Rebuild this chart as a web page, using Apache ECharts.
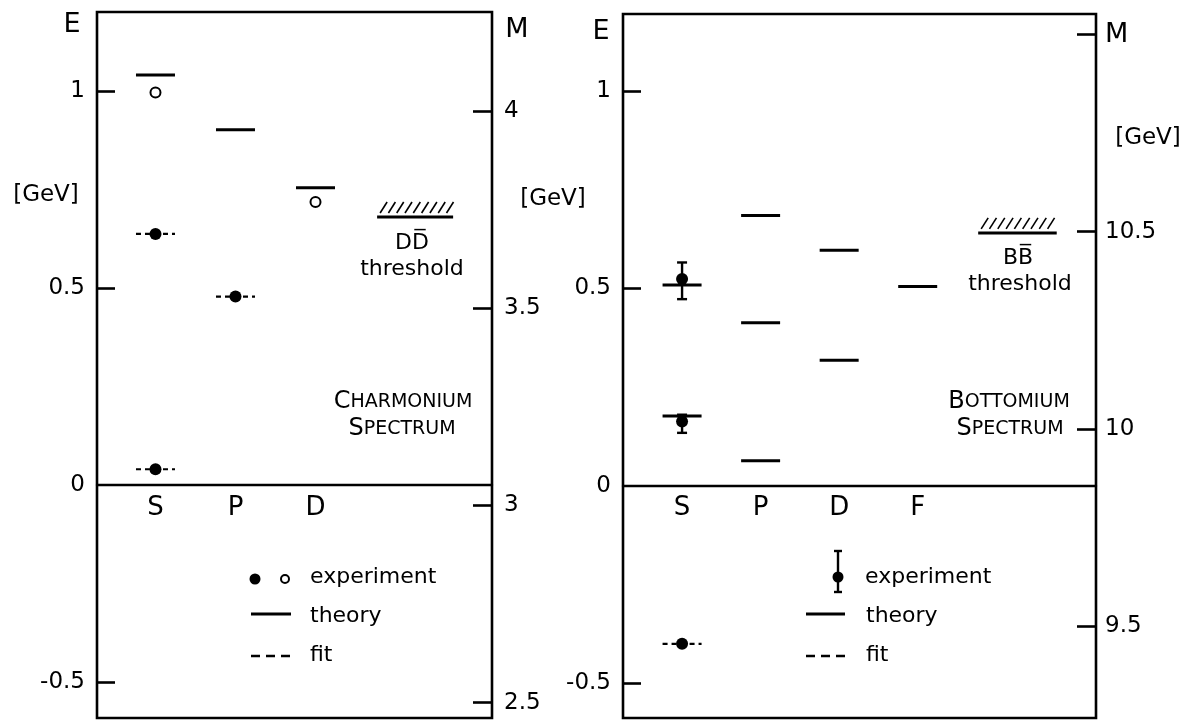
<!DOCTYPE html>
<html>
<head>
<meta charset="utf-8">
<title>Charmonium and Bottomium Spectra</title>
<script src="https://cdn.jsdelivr.net/npm/echarts@6/dist/echarts.min.js"></script>
<style>
    html, body { margin: 0; padding: 0; background: #fff; }
    #chart { width: 1189px; height: 722px; }
</style>
</head>
<body>
<div id="chart"></div>
<script>
// orbital labels on the E = 0 line
var wavesC = ['S', 'P', 'D'];
var wavesB = ['S', 'P', 'D', 'F'];

// charmonium, [wave, E in GeV]
var theoryC = [[1, 1.040], [2, 0.901], [3, 0.754]];
var fitC = [[1, 0.040], [1, 0.637], [2, 0.478]];
var expFilledC = [[1, 0.040], [1, 0.637], [2, 0.478]];
var expOpenC = [[1, 0.996], [3, 0.718]];
var thresholdC = [[3.77, 4.72, 0.680]];   // [from, to, E]
var massOffsetC = 3.052;                   // M = E + offset

// bottomium
var theoryB = [[1, 0.509], [1, 0.177], [2, 0.685], [2, 0.413], [2, 0.063],
               [3, 0.597], [3, 0.318], [4, 0.505]];
var fitB = [[1, -0.401]];
var expB = [[1, 0.524], [1, 0.163], [1, -0.401]];
var errB = [[1, 0.473, 0.566], [1, 0.134, 0.180]];   // [wave, low, high]
var thresholdB = [[4.77, 5.77, 0.641]];
var massOffsetB = 9.856;

// axis ticks
var eLabels = [-0.5, 0, 0.5, 1];
var eTicks = [-0.5, 0.5, 1];
var mTicksC = [2.5, 3, 3.5, 4];
var mTicksB = [9.5, 10, 10.5, 11];

var eRangeC = [-0.591, 1.2];
var eRangeB = [-0.589, 1.196];

var FONT = 'DejaVu Sans';
var BLACK = '#000';

var myChart = echarts.init(document.getElementById('chart'));

function levelSeries(data, idx, dashed) {
    return {
        type: 'custom',
        xAxisIndex: idx,
        yAxisIndex: idx * 2,
        data: data,
        z: 3,
        renderItem: function (params, api) {
            var p = api.coord([api.value(0), api.value(1)]);
            return {
                type: 'line',
                shape: { x1: p[0] - 19.5, y1: p[1], x2: p[0] + 19.5, y2: p[1] },
                style: { stroke: BLACK, lineWidth: dashed ? 2.2 : 3, lineDash: dashed ? [5, 4] : null }
            };
        }
    };
}

function thresholdSeries(data, idx) {
    return {
        type: 'custom',
        xAxisIndex: idx,
        yAxisIndex: idx * 2,
        data: data,
        encode: { x: [0, 1], y: 2 },
        renderItem: function (params, api) {
            var a = api.coord([api.value(0), api.value(2)]);
            var b = api.coord([api.value(1), api.value(2)]);
            var kids = [{
                type: 'line',
                shape: { x1: a[0], y1: a[1], x2: b[0], y2: b[1] },
                style: { stroke: BLACK, lineWidth: 3 }
            }];
            for (var x = a[0] + 3; x < b[0] - 6; x += 8.3) {
                kids.push({
                    type: 'line',
                    shape: { x1: x, y1: a[1] - 4, x2: x + 7, y2: a[1] - 15 },
                    style: { stroke: BLACK, lineWidth: 1.6 }
                });
            }
            return { type: 'group', children: kids };
        }
    };
}

function errorSeries(data, idx) {
    return {
        type: 'custom',
        xAxisIndex: idx,
        yAxisIndex: idx * 2,
        data: data,
        encode: { x: 0, y: [1, 2] },
        z: 4,
        renderItem: function (params, api) {
            var lo = api.coord([api.value(0), api.value(1)]);
            var hi = api.coord([api.value(0), api.value(2)]);
            var st = { stroke: BLACK, lineWidth: 2.4 };
            return {
                type: 'group',
                children: [
                    { type: 'line', shape: { x1: lo[0], y1: lo[1], x2: hi[0], y2: hi[1] }, style: st },
                    { type: 'line', shape: { x1: lo[0] - 5, y1: lo[1], x2: lo[0] + 5, y2: lo[1] }, style: st },
                    { type: 'line', shape: { x1: hi[0] - 5, y1: hi[1], x2: hi[0] + 5, y2: hi[1] }, style: st }
                ]
            };
        }
    };
}

// S, P, D, F letters sit just under the E = 0 line
function waveLabelSeries(names, idx) {
    return {
        type: 'scatter',
        xAxisIndex: idx,
        yAxisIndex: idx * 2,
        symbolSize: 0,
        silent: true,
        itemStyle: { opacity: 1, color: BLACK },
        data: names.map(function (n, i) { return [i + 1, 0]; }),
        label: {
            show: true,
            position: 'bottom',
            distance: 10,
            color: BLACK,
            opacity: 1,
            fontFamily: FONT,
            fontSize: 26,
            formatter: function (p) { return names[p.dataIndex]; }
        }
    };
}

function xAxisFor(idx, min, max) {
    return {
        gridIndex: idx,
        type: 'value',
        min: min,
        max: max,
        axisLine: { onZero: true, lineStyle: { color: BLACK, width: 2.4 } },
        axisTick: { show: false },
        splitLine: { show: false },
        axisLabel: { show: false }
    };
}

function eAxisFor(idx, range) {
    return {
        gridIndex: idx,
        type: 'value',
        position: 'left',
        min: range[0],
        max: range[1],
        axisLine: { show: false, onZero: false },
        splitLine: { show: false },
        axisTick: { inside: true, length: 18, customValues: eTicks, lineStyle: { color: BLACK, width: 2.6 } },
        axisLabel: { customValues: eLabels, color: BLACK, fontFamily: FONT, fontSize: 23, margin: 12 }
    };
}

function mAxisFor(idx, range, offset, ticks, margin, topAsM) {
    return {
        gridIndex: idx,
        type: 'value',
        position: 'right',
        min: range[0] + offset,
        max: range[1] + offset,
        axisLine: { show: false, onZero: false },
        splitLine: { show: false },
        axisTick: { inside: true, length: 19, customValues: ticks, lineStyle: { color: BLACK, width: 2.6 } },
        axisLabel: {
            customValues: ticks,
            color: BLACK, fontFamily: FONT, fontSize: 23, margin: margin,
            formatter: function (v) {
                if (topAsM && v === ticks[ticks.length - 1]) return '{m|M}';
                return String(v);
            },
            rich: { m: { fontFamily: FONT, fontSize: 27, color: BLACK } }
        }
    };
}

function txt(s, x, y, size, extra) {
    var style = {
        text: s, x: 0, y: 0, fill: BLACK,
        fontFamily: FONT, fontSize: size || 22,
        align: 'center', verticalAlign: 'middle',
        textAlign: 'center', textVerticalAlign: 'middle'
    };
    if (extra) {
        for (var k in extra) style[k] = extra[k];
    }
    return { type: 'text', x: x, y: y, style: style, z: 10 };
}

function smallCaps(word) {
    return '{b|' + word.charAt(0) + '}{s|' + word.slice(1) + '}';
}
var capsRich = {
    b: { fontFamily: FONT, fontSize: 24, fill: BLACK, color: BLACK },
    s: { fontFamily: FONT, fontSize: 19, fill: BLACK, color: BLACK }
};

function seg(x1, y1, x2, y2, dash) {
    return { type: 'line', shape: { x1: x1, y1: y1, x2: x2, y2: y2 },
             style: { stroke: BLACK, lineWidth: dash ? 2.4 : 3, lineDash: dash || null }, z: 10 };
}

var graphics = [
    txt('E', 72, 25, 27),
    txt('[GeV]', 46, 195, 23),
    txt('M', 517, 30, 27),
    txt('[GeV]', 553, 199, 23),
    txt('E', 601, 32, 27),
    txt('[GeV]', 1148, 138, 23),
    txt('D' + 'D\u0305', 412, 243, 22),
    txt('threshold', 412, 269, 22),
    txt('B' + 'B\u0305', 1018, 258, 22),
    txt('threshold', 1020, 284, 22),
    txt(smallCaps('CHARMONIUM'), 403, 402, 22, { rich: capsRich }),
    txt(smallCaps('SPECTRUM'), 402, 429, 22, { rich: capsRich }),
    txt(smallCaps('BOTTOMIUM'), 1009, 402, 22, { rich: capsRich }),
    txt(smallCaps('SPECTRUM'), 1010, 429, 22, { rich: capsRich }),

    // legend, charmonium
    { type: 'circle', shape: { cx: 255, cy: 579, r: 5.5 }, style: { fill: BLACK }, z: 10 },
    { type: 'circle', shape: { cx: 285, cy: 579, r: 4 }, style: { fill: '#fff', stroke: BLACK, lineWidth: 2 }, z: 10 },
    txt('experiment', 310, 577, 22, { align: 'left', textAlign: 'left' }),
    seg(251, 614, 291, 614),
    txt('theory', 310, 616, 22, { align: 'left', textAlign: 'left' }),
    seg(251, 656, 291, 656, [9, 6]),
    txt('fit', 310, 655, 22, { align: 'left', textAlign: 'left' }),

    // legend, bottomium
    { type: 'line', shape: { x1: 838, y1: 551, x2: 838, y2: 592 }, style: { stroke: BLACK, lineWidth: 2.4 }, z: 10 },
    { type: 'line', shape: { x1: 834, y1: 551, x2: 842, y2: 551 }, style: { stroke: BLACK, lineWidth: 2.4 }, z: 10 },
    { type: 'line', shape: { x1: 834, y1: 592, x2: 842, y2: 592 }, style: { stroke: BLACK, lineWidth: 2.4 }, z: 10 },
    { type: 'circle', shape: { cx: 838, cy: 577, r: 5.5 }, style: { fill: BLACK }, z: 10 },
    txt('experiment', 865, 577, 22, { align: 'left', textAlign: 'left' }),
    seg(806, 614, 845, 614),
    txt('theory', 866, 616, 22, { align: 'left', textAlign: 'left' }),
    seg(806, 656, 845, 656, [9, 6]),
    txt('fit', 866, 655, 22, { align: 'left', textAlign: 'left' })
];

var option = {
    backgroundColor: '#fff',
    animation: false,
    textStyle: { fontFamily: FONT, color: BLACK },
    grid: [
        { left: 97, top: 12, width: 395, height: 706, show: true, borderColor: BLACK, borderWidth: 2.6, outerBoundsMode: 'none' },
        { left: 623, top: 14, width: 473, height: 704, show: true, borderColor: BLACK, borderWidth: 2.6, outerBoundsMode: 'none' }
    ],
    xAxis: [
        xAxisFor(0, 0.269, 5.206),
        xAxisFor(1, 0.248, 6.27)
    ],
    yAxis: [
        eAxisFor(0, eRangeC),
        mAxisFor(0, eRangeC, massOffsetC, mTicksC, 12, false),
        eAxisFor(1, eRangeB),
        mAxisFor(1, eRangeB, massOffsetB, mTicksB, 9, true)
    ],
    series: [
        levelSeries(theoryC, 0, false),
        levelSeries(fitC, 0, true),
        thresholdSeries(thresholdC, 0),
        {
            type: 'scatter', xAxisIndex: 0, yAxisIndex: 0, data: expFilledC, z: 5,
            symbol: 'circle', symbolSize: 12, itemStyle: { color: BLACK, opacity: 1 }
        },
        {
            type: 'scatter', xAxisIndex: 0, yAxisIndex: 0, data: expOpenC, z: 5,
            symbol: 'circle', symbolSize: 10, itemStyle: { color: '#fff', borderColor: BLACK, borderWidth: 2, opacity: 1 }
        },
        waveLabelSeries(wavesC, 0),
        levelSeries(theoryB, 1, false),
        levelSeries(fitB, 1, true),
        thresholdSeries(thresholdB, 1),
        errorSeries(errB, 1),
        {
            type: 'scatter', xAxisIndex: 1, yAxisIndex: 2, data: expB, z: 5,
            symbol: 'circle', symbolSize: 12, itemStyle: { color: BLACK, opacity: 1 }
        },
        waveLabelSeries(wavesB, 1)
    ],
    graphic: graphics
};

option && myChart.setOption(option);
</script>
</body>
</html>
